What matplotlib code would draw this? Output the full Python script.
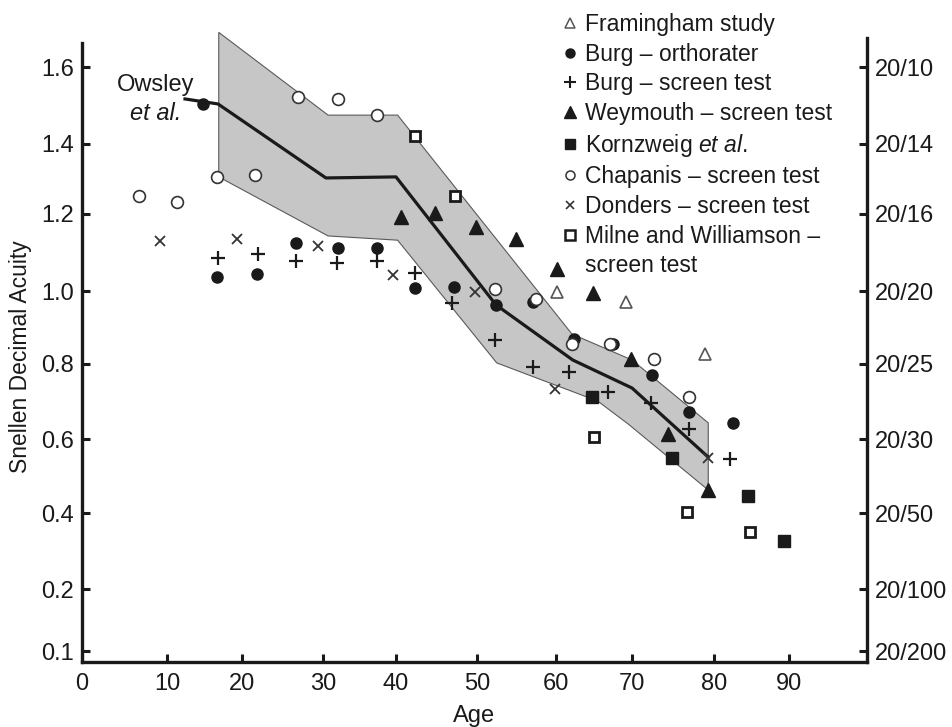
import numpy as np
import matplotlib
matplotlib.use('Agg')
import matplotlib.pyplot as plt
from matplotlib.lines import Line2D

plt.rcParams['font.family'] = ['Liberation Sans', 'DejaVu Sans']
plt.rcParams['mathtext.fontset'] = 'custom'
plt.rcParams['mathtext.rm'] = 'Liberation Sans'
plt.rcParams['mathtext.it'] = 'Liberation Sans:italic'

INK = '#1a1a1a'

# ---- data (age in years, Snellen decimal acuity) ----
framingham_age = [60.1, 69.2, 78.9]
framingham_acuity = [0.997, 0.970, 0.827]

burg_orth_age = [14.8, 16.7, 21.9, 26.7, 32.1, 37.4, 42.3, 47.2, 52.4, 57.1,
                 62.4, 67.5, 72.4, 77.0, 82.5]
burg_orth_acuity = [1.504, 1.036, 1.044, 1.125, 1.112, 1.112, 1.008, 1.010,
                    0.962, 0.970, 0.868, 0.855, 0.771, 0.672, 0.643]

burg_screen_age = [16.8, 22.0, 26.7, 31.9, 37.4, 42.3, 46.9, 52.3, 57.1,
                   61.7, 66.8, 72.3, 77.0, 82.1]
burg_screen_acuity = [1.086, 1.096, 1.078, 1.073, 1.078, 1.047, 0.967, 0.866,
                      0.792, 0.779, 0.725, 0.696, 0.627, 0.546]

weymouth_age = [40.6, 44.8, 49.9, 54.9, 60.1, 64.9, 69.9, 74.4, 79.3]
weymouth_acuity = [1.192, 1.203, 1.166, 1.135, 1.057, 0.995, 0.814, 0.613, 0.462]

kornzweig_age = [64.7, 74.9, 84.5, 89.3]
kornzweig_acuity = [0.712, 0.549, 0.446, 0.326]

chapanis_age = [6.7, 11.3, 16.7, 21.6, 26.9, 32.1, 37.4, 52.3, 57.5, 62.1,
                67.1, 72.7, 77.0]
chapanis_acuity = [1.251, 1.234, 1.306, 1.311, 1.522, 1.517, 1.475, 1.005,
                   0.978, 0.855, 0.855, 0.814, 0.712]

donders_age = [9.2, 19.3, 29.4, 39.6, 49.8, 59.9, 79.3]
donders_acuity = [1.130, 1.135, 1.117, 1.042, 0.997, 0.733, 0.549]

milne_age = [42.3, 47.3, 65.0, 76.7, 84.8]
milne_acuity = [1.421, 1.251, 0.605, 0.403, 0.350]

# Owsley et al. mean curve and its shaded range
owsley_age = [12.4, 16.8, 30.4, 40.0, 52.4, 62.2, 70.0, 79.3]
owsley_acuity = [1.517, 1.504, 1.303, 1.306, 0.962, 0.811, 0.736, 0.551]

band_upper_age = [16.9, 30.7, 40.2, 62.1, 70.0, 79.3]
band_upper_acuity = [1.69, 1.475, 1.475, 0.882, 0.811, 0.643]
band_lower_age = [16.9, 30.7, 40.2, 52.5, 65.5, 69.5, 79.3]
band_lower_acuity = [1.306, 1.143, 1.132, 0.803, 0.701, 0.640, 0.462]

# axis ticks
age_ticks = [0, 10, 20, 30, 40, 50, 60, 70, 80, 90]
acuity_ticks = [0.1, 0.2, 0.4, 0.6, 0.8, 1.0, 1.2, 1.4, 1.6]
acuity_labels = ['0.1', '0.2', '0.4', '0.6', '0.8', '1.0', '1.2', '1.4', '1.6']
snellen_labels = ['20/200', '20/100', '20/50', '20/30', '20/25', '20/20',
                  '20/16', '20/14', '20/10']

# ---- the printed axes are not evenly spaced: piecewise scales ----
x_vals = [-10, 0, 10, 20, 30, 40, 50, 60, 70, 80, 90, 100, 110]
x_pos = [-78, 0, 85, 160, 241, 314, 395, 474, 550, 632, 707, 785, 863]
y_vals = [0.0, 0.1, 0.2, 0.4, 0.6, 0.8, 1.0, 1.2, 1.4, 1.6, 2.0]
y_pos = [-51, 11, 73, 149, 223, 298, 371, 448, 518, 595, 749]


def fx(v):
    return np.interp(v, x_vals, x_pos)


def fx_inv(p):
    return np.interp(p, x_pos, x_vals)


def fy(v):
    return np.interp(v, y_vals, y_pos)


def fy_inv(p):
    return np.interp(p, y_pos, y_vals)


fig = plt.figure(figsize=(9.52, 7.27), dpi=100)
ax = fig.add_axes([82 / 952, 1 - 662 / 727, 785 / 952, 634 / 727])
ax.set_xscale('function', functions=(fx, fx_inv))
ax.set_yscale('function', functions=(fy, fy_inv))
ylo, yhi = float(fy_inv(0)), float(fy_inv(634))
ax.set_xlim(0, 100)
ax.set_ylim(ylo, yhi)

band_age = band_upper_age + band_lower_age[::-1]
band_acuity = band_upper_acuity + band_lower_acuity[::-1]
ax.fill(band_age, band_acuity, facecolor='#c6c6c6', edgecolor='#5a5a5a',
        lw=0.8, zorder=1)
ax.plot(owsley_age, owsley_acuity, color=INK, lw=2.3, zorder=2,
        solid_joinstyle='round')

ax.plot(framingham_age, framingham_acuity, ls='none', marker='^', ms=9,
        mfc='white', mec='#555555', mew=1.2, zorder=3)
ax.plot(burg_orth_age, burg_orth_acuity, ls='none', marker='o', ms=8,
        color=INK, zorder=3)
ax.plot(burg_screen_age, burg_screen_acuity, ls='none', marker='+', ms=10,
        mew=1.6, color=INK, zorder=3)
ax.plot(weymouth_age, weymouth_acuity, ls='none', marker='^', ms=9.5,
        color=INK, zorder=3)
ax.plot(kornzweig_age, kornzweig_acuity, ls='none', marker='s', ms=8.5,
        color=INK, zorder=3)
ax.plot(chapanis_age, chapanis_acuity, ls='none', marker='o', ms=8.5,
        mfc='white', mec='#333333', mew=1.2, zorder=3)
ax.plot(donders_age, donders_acuity, ls='none', marker='x', ms=7.5,
        mew=1.3, color='#333333', zorder=3)
ax.plot(milne_age, milne_acuity, ls='none', marker='s', ms=7.5,
        mfc='white', mec=INK, mew=2, zorder=3)

ax.text(8.7, 1.552, 'Owsley', ha='center', va='center', fontsize=17,
        color=INK)
ax.text(8.7, 1.480, 'et al.', ha='center', va='center', fontsize=17,
        style='italic', color=INK)

# axes styling
for side in ['top', 'right']:
    ax.spines[side].set_visible(False)
for side in ['left', 'bottom']:
    ax.spines[side].set_linewidth(2.4)
    ax.spines[side].set_color(INK)
    ax.spines[side].set_capstyle('projecting')
ax.spines['left'].set_bounds(ylo, float(fy_inv(619)))

ax.set_xticks(age_ticks)
ax.set_xticklabels([str(a) for a in age_ticks])
ax.set_yticks(acuity_ticks)
ax.set_yticklabels(acuity_labels)
ax.tick_params(axis='both', direction='in', length=6, width=2.2,
               color=INK, labelcolor=INK, labelsize=17)
ax.tick_params(axis='x', pad=8)
ax.tick_params(axis='y', pad=6)
ax.set_xlabel('Age', fontsize=17, color=INK, labelpad=7)
ax.set_ylabel('Snellen Decimal Acuity', fontsize=16.5, color=INK)
ax.yaxis.set_label_coords(-50 / 785, 0.482)

ax2 = ax.twinx()
ax2.set_yscale('function', functions=(fy, fy_inv))
ax2.set_ylim(ylo, yhi)
for side in ['top', 'left', 'bottom']:
    ax2.spines[side].set_visible(False)
ax2.spines['right'].set_linewidth(2.4)
ax2.spines['right'].set_color(INK)
ax2.spines['right'].set_capstyle('projecting')
ax2.spines['right'].set_bounds(ylo, float(fy_inv(624)))
ax2.set_yticks(acuity_ticks)
ax2.set_yticklabels(snellen_labels)
ax2.tick_params(axis='y', direction='in', length=6, width=2.2, pad=6,
                color=INK, labelcolor=INK, labelsize=17)

# legend
handles = [
    Line2D([], [], ls='none', marker='^', ms=7, mfc='white', mec='#555555', mew=1.1),
    Line2D([], [], ls='none', marker='o', ms=6.5, color=INK),
    Line2D([], [], ls='none', marker='+', ms=8.5, mew=1.5, color=INK),
    Line2D([], [], ls='none', marker='^', ms=8, color=INK),
    Line2D([], [], ls='none', marker='s', ms=6.5, color=INK),
    Line2D([], [], ls='none', marker='o', ms=6.5, mfc='white', mec='#333333', mew=1.1),
    Line2D([], [], ls='none', marker='x', ms=6, mew=1.2, color='#333333'),
    Line2D([], [], ls='none', marker='s', ms=6.5, mfc='white', mec=INK, mew=1.8),
    Line2D([], [], ls='none'),
]
labels = [
    'Framingham study',
    'Burg \u2013 orthorater',
    'Burg \u2013 screen test',
    'Weymouth \u2013 screen test',
    'Kornzweig $\\it{et\\ al.}$',
    'Chapanis \u2013 screen test',
    'Donders \u2013 screen test',
    'Milne and Williamson \u2013',
    'screen test',
]
leg = fig.legend(handles, labels, loc='upper left',
                 bbox_to_anchor=(563 / 952, 1 - 13 / 727),
                 frameon=False, fontsize=16.5, borderpad=0, borderaxespad=0,
                 handlelength=0.6, handletextpad=0.35, labelspacing=0.29)
for t in leg.get_texts():
    t.set_color(INK)

fig.savefig('out.png', dpi=100)
